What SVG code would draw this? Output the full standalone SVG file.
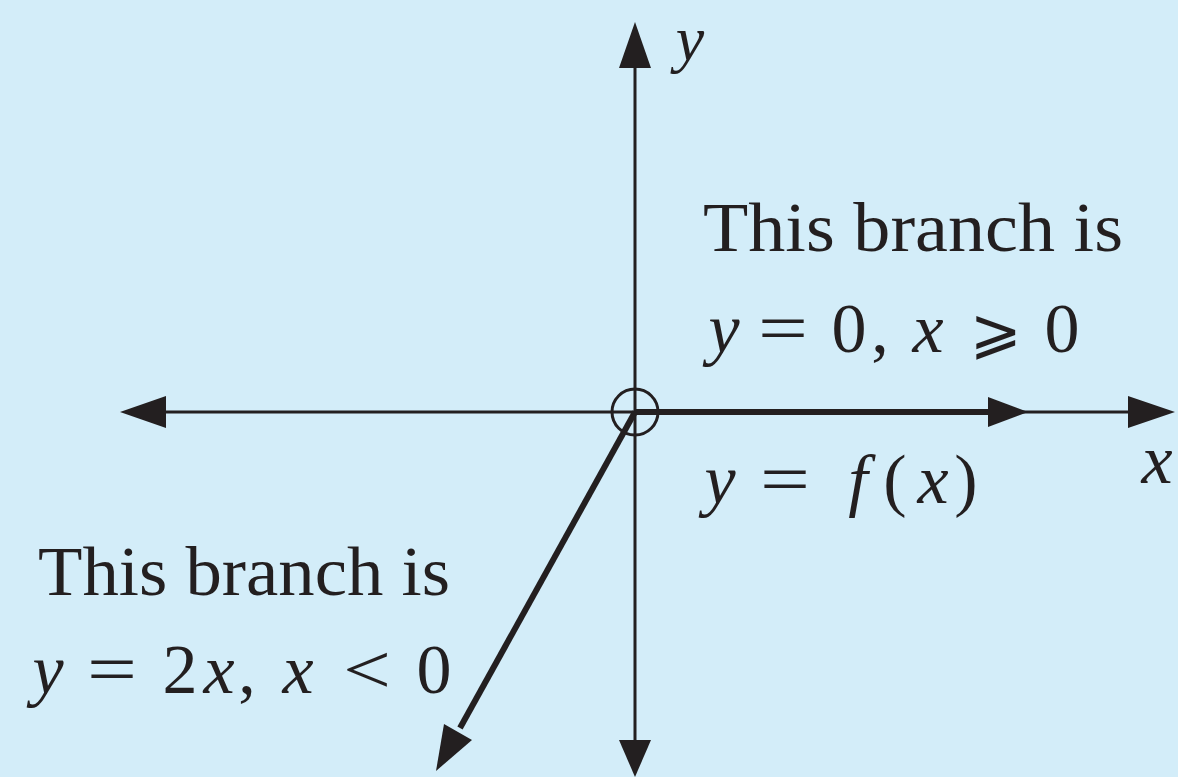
<svg xmlns="http://www.w3.org/2000/svg" width="1178" height="777" viewBox="0 0 1178 777">
<style>
.ax{stroke:#231F20;stroke-width:3;fill:none}
.thick{stroke:#231F20;stroke-width:6;fill:none}
.head{fill:#231F20;stroke:none}
text{font-family:"Liberation Serif","DejaVu Serif",serif;font-size:70px;fill:#231F20}
.m{text-anchor:middle}
.i{font-style:italic}
</style>
<rect x="0" y="0" width="1178" height="777" fill="#D3EDF9"/>
<g id="connectors">
  <line class="ax" x1="160" y1="412" x2="1132" y2="412"/>
  <polygon class="head" points="120,412 166,396 166,428"/>
  <polygon class="head" points="1175,412 1128,396 1128,428"/>
  <line class="ax" x1="635" y1="62" x2="635" y2="745"/>
  <polygon class="head" points="635,22 619,68 651,68"/>
  <polygon class="head" points="635,777 619,740 651,740"/>
  <line class="thick" x1="635" y1="412" x2="995" y2="412"/>
  <polygon class="head" points="1028,412 988,397 988,427"/>
  <line class="thick" x1="635" y1="412" x2="460" y2="728"/>
  <polygon class="head" points="436,771 444,724 472,740"/>
</g>
<g id="origin">
  <circle class="ax" cx="635" cy="412" r="23"/>
</g>
<g id="axis-labels">
  <text class="m i" x="690" y="60" style="font-size:64px">y</text>
  <text class="m i" x="1157" y="483">x</text>
</g>
<g id="label-right">
  <text x="703" y="251" textLength="420" lengthAdjust="spacingAndGlyphs">This branch is</text>
  <text class="m i" x="724" y="352">y</text>
  <text class="m" x="783" y="352" textLength="50" lengthAdjust="spacingAndGlyphs">=</text>
  <text class="m" x="849" y="352">0</text>
  <text class="m" x="880" y="352">,</text>
  <text class="m i" x="928" y="352">x</text>
  <text class="m" x="996" y="352" style="font-family:'DejaVu Sans','DejaVu Serif',sans-serif;font-size:62px">⩾</text>
  <text class="m" x="1062" y="352">0</text>
</g>
<g id="label-fx">
  <text class="m i" x="720" y="503">y</text>
  <text class="m" x="785" y="503" textLength="50" lengthAdjust="spacingAndGlyphs">=</text>
  <text class="m i" x="858" y="503">f</text>
  <text class="m" x="895" y="503">(</text>
  <text class="m i" x="933" y="503">x</text>
  <text class="m" x="966" y="503">)</text>
</g>
<g id="label-left">
  <text x="38" y="595" textLength="412" lengthAdjust="spacingAndGlyphs">This branch is</text>
  <text class="m i" x="48" y="693">y</text>
  <text class="m" x="112" y="693" textLength="50" lengthAdjust="spacingAndGlyphs">=</text>
  <text class="m" x="180" y="693">2</text>
  <text class="m i" x="219" y="693">x</text>
  <text class="m" x="247" y="693">,</text>
  <text class="m i" x="298" y="693">x</text>
  <text class="m" x="367" y="693" textLength="48" lengthAdjust="spacingAndGlyphs">&lt;</text>
  <text class="m" x="434" y="693">0</text>
</g>
</svg>
